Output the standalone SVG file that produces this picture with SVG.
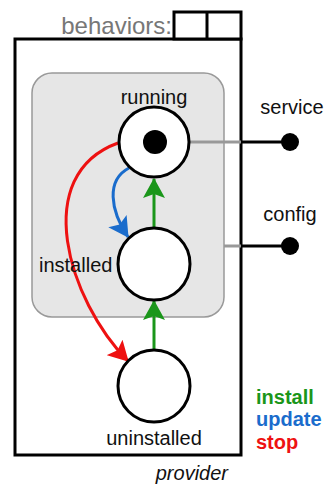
<svg xmlns="http://www.w3.org/2000/svg" width="328" height="485" viewBox="0 0 328 485">
  <style>
    .lbl { font-family: "Liberation Sans", Arial, sans-serif; font-size: 20px; fill: #111; }
    .state { fill: #fff; stroke: #000; stroke-width: 3; }
    .legend { font-family: "Liberation Sans", Arial, sans-serif; font-size: 20px; font-weight: bold; }
    .port { fill: #000; }
  </style>
  <defs>
    <marker id="ahGreen" viewBox="0 0 20 22" refX="19" refY="11" markerWidth="20" markerHeight="22" markerUnits="userSpaceOnUse" orient="auto">
      <path d="M0,0 L20,11 L0,22 L4,11 z" fill="#1a961a"/>
    </marker>
    <marker id="ahBlue" viewBox="0 0 20 22" refX="19" refY="11" markerWidth="20" markerHeight="22" markerUnits="userSpaceOnUse" orient="auto">
      <path d="M0,0 L20,11 L0,22 L4,11 z" fill="#1a6ccc"/>
    </marker>
    <marker id="ahRed" viewBox="0 0 20 22" refX="19" refY="11" markerWidth="20" markerHeight="22" markerUnits="userSpaceOnUse" orient="auto">
      <path d="M0,0 L20,11 L0,22 L4,11 z" fill="#ee1111"/>
    </marker>
  </defs>

  <!-- provider box with behavior slots -->
  <g id="provider">
    <rect x="15" y="39" width="226" height="416" fill="#fff" stroke="#000" stroke-width="3"/>
    <text class="lbl" x="228" y="480" text-anchor="end" font-style="italic">provider</text>
  </g>
  <g id="behaviors">
    <text x="172" y="34" text-anchor="end" font-family="Liberation Sans, Arial, sans-serif" font-size="24" fill="#777">behaviors:</text>
    <rect x="174" y="12" width="67" height="27" fill="#fff" stroke="#000" stroke-width="3"/>
    <line x1="207" y1="12" x2="207" y2="39" stroke="#000" stroke-width="3"/>
  </g>

  <!-- active region -->
  <g id="active">
    <rect x="32" y="73" width="192" height="244" rx="20" ry="20" fill="#e6e6e6" stroke="#999" stroke-width="1.5"/>
  </g>

  <!-- connectors -->
  <g id="connectors" fill="none" stroke-width="3">
    <line x1="190" y1="142" x2="241" y2="142" stroke="#999"/>
    <line x1="241" y1="142" x2="289" y2="142" stroke="#000"/>
    <line x1="224" y1="246" x2="241" y2="246" stroke="#999"/>
    <line x1="241" y1="246" x2="289" y2="246" stroke="#000"/>
    <line x1="154" y1="228" x2="154" y2="179" stroke="#1a961a" marker-end="url(#ahGreen)"/>
    <line x1="154" y1="350" x2="154" y2="301" stroke="#1a961a" marker-end="url(#ahGreen)"/>
    <path d="M129,168 C106,180 110,210 128,237" stroke="#1a6ccc" marker-end="url(#ahBlue)"/>
    <path d="M118,143 C30,175 68,300 128,361" stroke="#ee1111" marker-end="url(#ahRed)"/>
  </g>

  <!-- states -->
  <g id="running">
    <circle class="state" cx="154" cy="142" r="35"/>
    <circle cx="155" cy="142" r="12" fill="#000"/>
    <text class="lbl" x="154" y="104" text-anchor="middle">running</text>
  </g>
  <g id="installed">
    <circle class="state" cx="154" cy="264" r="36"/>
    <text class="lbl" x="39" y="272">installed</text>
  </g>
  <g id="uninstalled">
    <circle class="state" cx="154" cy="386" r="36"/>
    <text class="lbl" x="154" y="445" text-anchor="middle">uninstalled</text>
  </g>

  <!-- ports -->
  <g id="service">
    <circle class="port" cx="290" cy="142" r="9"/>
    <text class="lbl" x="292" y="114" text-anchor="middle">service</text>
  </g>
  <g id="config">
    <circle class="port" cx="290" cy="246" r="9"/>
    <text class="lbl" x="290" y="221" text-anchor="middle">config</text>
  </g>

  <!-- legend -->
  <g id="legend" class="legend">
    <text x="256" y="404" fill="#1a961a">install</text>
    <text x="256" y="426" fill="#1a6ccc">update</text>
    <text x="256" y="449" fill="#ee1111">stop</text>
  </g>
</svg>
